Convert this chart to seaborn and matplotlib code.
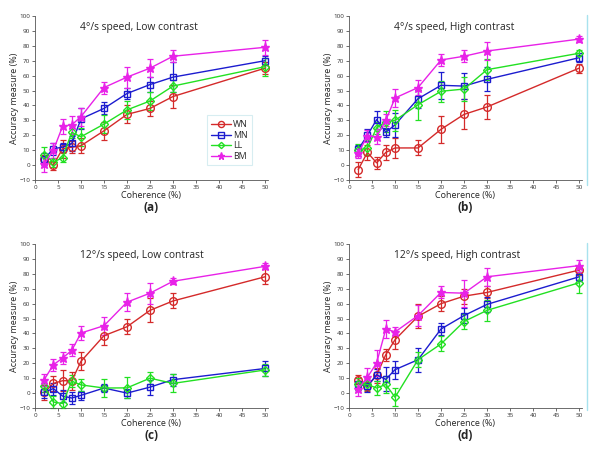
import numpy as np
import pandas as pd
import seaborn as sns
import matplotlib.pyplot as plt
from matplotlib.lines import Line2D

sns.set_theme(style="white")
plt.rcParams['font.family'] = ['Open Sans', 'DejaVu Sans']

coherence = [2, 4, 6, 8, 10, 15, 20, 25, 30, 50]
methods = ["WN", "MN", "LL", "BM"]

# (a) 4 deg/s, low contrast
wn_a = [4, 0, 11, 12, 13, 23, 34, 38, 46, 65]
mn_a = [4, 11, 12, 14.5, 31, 38, 48, 54, 59, 70]
ll_a = [7, 2, 5, 22, 19, 27.5, 37, 43, 53, 66]
bm_a = [0.5, 10, 26, 27, 32.5, 52, 59, 65, 73, 79]
wn_a_err = [3, 3, 6, 4, 5, 6, 6, 5, 8, 4]
mn_a_err = [4, 4, 3, 5, 7, 4, 4, 5, 10, 3]
ll_a_err = [5, 3, 3, 4, 6, 6, 6, 6, 4, 6]
bm_a_err = [5, 5, 5, 6, 6, 4, 7, 6, 4, 5]

# (b) 4 deg/s, high contrast
wn_b = [-3, 8.5, 1.5, 8.5, 11.5, 11.5, 24, 34, 39, 65]
mn_b = [10.5, 20, 30.5, 22, 27, 44.5, 53.5, 53, 57.5, 72]
ll_b = [10, 11.5, 25, 29, 30, 40.5, 49.5, 51, 64, 75]
bm_b = [8, 19.5, 19, 30, 45, 52, 70.5, 73, 76.5, 84.5]
wn_b_err = [5, 5, 4, 5, 7, 5, 9, 10, 8, 3]
mn_b_err = [3, 4, 6, 3, 8, 6, 9, 9, 8, 3]
ll_b_err = [4, 5, 4, 7, 7, 10, 7, 8, 7, 2]
bm_b_err = [3, 4, 5, 4, 6, 5, 4, 4, 6, 2]

# (c) 12 deg/s, low contrast
wn_c = [0.5, 6.5, 8.3, 8.3, 21.3, 38.5, 44.5, 55.5, 61.8, 78]
mn_c = [0.7, 3, -2, -3.3, -1.5, 3.4, 0, 4, 9, 16.5]
ll_c = [4.6, -6, -7, 8, 5.5, 3.4, 3.5, 10, 6.5, 15.5]
bm_c = [9, 19, 23.5, 28.7, 40.3, 45.2, 61, 67, 75, 85]
wn_c_err = [5, 5, 7, 6, 6, 6, 5, 8, 5, 5]
mn_c_err = [4, 4, 4, 4, 3, 3, 3, 5, 4, 5]
ll_c_err = [4, 4, 3, 4, 4, 6, 7, 4, 6, 4]
bm_c_err = [4, 4, 4, 4, 5, 6, 6, 7, 2, 2]

# (d) 12 deg/s, high contrast
wn_d = [9, 4.6, 12, 25.8, 35.8, 51.5, 60, 65, 67.5, 82.5]
mn_d = [6, 4.6, 12.3, 9.2, 15.7, 22.4, 43, 52, 59.5, 78]
ll_d = [6, 5.8, 3.4, 5.8, -2.8, 22.4, 33, 48, 55.5, 74]
bm_d = [3, 10.6, 20.2, 43, 41, 52, 67.5, 67, 78, 85.5]
wn_d_err = [3, 3, 5, 4, 6, 8, 5, 5, 4, 3]
mn_d_err = [4, 4, 4, 8, 6, 8, 4, 5, 5, 3]
ll_d_err = [4, 4, 5, 6, 6, 5, 5, 5, 7, 7]
bm_d_err = [5, 6, 9, 6, 3, 7, 4, 9, 6, 4]

titles = ["4°/s speed, Low contrast", "4°/s speed, High contrast",
          "12°/s speed, Low contrast", "12°/s speed, High contrast"]
letters = ["(a)", "(b)", "(c)", "(d)"]

panels = [
    (wn_a, mn_a, ll_a, bm_a), (wn_b, mn_b, ll_b, bm_b),
    (wn_c, mn_c, ll_c, bm_c), (wn_d, mn_d, ll_d, bm_d),
]
panel_errs = [
    (wn_a_err, mn_a_err, ll_a_err, bm_a_err), (wn_b_err, mn_b_err, ll_b_err, bm_b_err),
    (wn_c_err, mn_c_err, ll_c_err, bm_c_err), (wn_d_err, mn_d_err, ll_d_err, bm_d_err),
]

palette = {"WN": "#d42a2a", "MN": "#1c1ccf", "LL": "#22e022", "BM": "#e822e8"}
marker_map = {"WN": "o", "MN": "s", "LL": "D", "BM": "*"}
msize = {"WN": 5.5, "MN": 5, "LL": 4, "BM": 6.5}

fig = plt.figure(figsize=(6, 4.49), dpi=100)
positions = [
    [0.0583, 0.5991, 0.388, 0.3653], [0.5817, 0.5991, 0.388, 0.3653],
    [0.0583, 0.0913, 0.388, 0.3653], [0.5817, 0.0913, 0.388, 0.3653],
]

for i in range(4):
    ax = fig.add_axes(positions[i])
    rows = []
    for m, vals, errs in zip(methods, panels[i], panel_errs[i]):
        for c, v, e in zip(coherence, vals, errs):
            rows.append({"coherence": c, "acc": v, "err": e, "method": m})
    df = pd.DataFrame(rows)

    for m in methods:
        sub = df[df.method == m]
        ax.errorbar(sub.coherence, sub.acc, yerr=sub.err, fmt="none",
                    ecolor=palette[m], elinewidth=0.9, capsize=2, capthick=0.9,
                    clip_on=False, zorder=2)

    sns.lineplot(data=df, x="coherence", y="acc", hue="method", style="method",
                 hue_order=methods, style_order=methods, palette=palette,
                 markers=marker_map, dashes=False, markersize=5,
                 markeredgewidth=1.0, linewidth=1.0,
                 errorbar=None, legend=False, ax=ax, zorder=3, clip_on=False)
    for line, m in zip(ax.lines[-4:], methods):
        line.set_markeredgecolor(palette[m])
        line.set_markerfacecolor(palette[m] if m == "BM" else "none")
        line.set_markersize(msize[m])

    ax.set_xlim(0, 50.6)
    ax.set_ylim(-10, 100)
    ax.set_xticks(range(0, 51, 5))
    ax.set_yticks(range(-10, 101, 10))
    ax.tick_params(axis="both", labelsize=4.5, length=2, width=0.5, pad=1.5,
                   direction="out", bottom=True, left=True, colors="#333333")
    for s in ["top", "right"]:
        ax.spines[s].set_visible(False)
    for s in ["left", "bottom"]:
        ax.spines[s].set_linewidth(0.6)
        ax.spines[s].set_color("#555555")
    ax.set_xlabel("Coherence (%)", fontsize=6.5, labelpad=1)
    ax.set_ylabel("Accuracy measure (%)", fontsize=6.5, labelpad=0)
    ax.text(9.7, 92, titles[i], fontsize=7.4, ha="left", va="center")
    ax.text(0.5, -0.17, letters[i], transform=ax.transAxes, fontsize=8.5,
            fontweight="bold", ha="center", va="center")

    if i == 0:
        handles = [Line2D([0], [0], color=palette[m], marker=marker_map[m],
                          markerfacecolor=palette[m] if m == "BM" else "none",
                          markersize=msize[m] * 0.8, linewidth=1.0)
                   for m in methods]
        leg = ax.legend(handles, methods, loc="upper left",
                        bbox_to_anchor=(0.72, 0.42), fontsize=6.3,
                        frameon=True, fancybox=False, handlelength=2.2,
                        handletextpad=0.3, borderpad=0.5, labelspacing=0.2)
        leg.get_frame().set_edgecolor("#cde9ee")
        leg.get_frame().set_linewidth(0.8)

# light cyan border lines at the right of the right-hand panels
fig.add_artist(Line2D([587 / 600, 587 / 600], [1 - 185 / 449, 1 - 15 / 449],
                      color="#a8e2ee", linewidth=1.0))
fig.add_artist(Line2D([587 / 600, 587 / 600], [1 - 410 / 449, 1 - 243 / 449],
                      color="#a8e2ee", linewidth=1.0))

fig.savefig("out.png", dpi=100, facecolor="white")
